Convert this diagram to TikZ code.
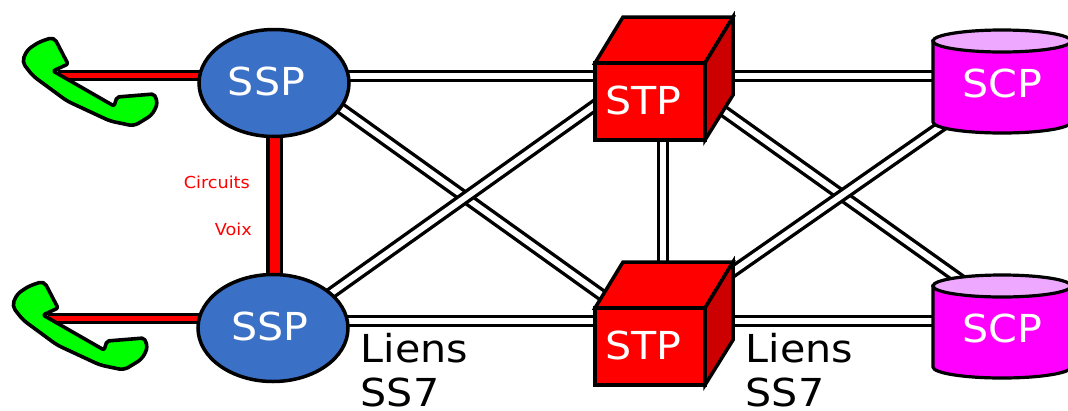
\documentclass[tikz,border=0pt]{standalone}
\usepackage{fontspec}
\setmainfont[FakeStretch=1.07]{DejaVu Sans}
\usetikzlibrary{shapes.geometric,backgrounds}
\definecolor{sspblue}{HTML}{3A70C6}
\definecolor{cubedark}{HTML}{CC0000}
\definecolor{scptop}{HTML}{EFA8FF}
\definecolor{scpmain}{HTML}{FF00FF}
\definecolor{phonegreen}{HTML}{00FF00}
\definecolor{purered}{HTML}{FF0000}
\tikzset{
  x=1pt,y=-1pt,
  ssplink/.style={line width=3.4pt,double=white,double distance=6pt},
  voicev/.style={line width=3.2pt,double=purered,double distance=10pt},
  voiceh/.style={line width=3pt,double=purered,double distance=5pt},
  sspnode/.style={ellipse,draw=black,line width=3.5pt,fill=sspblue,inner sep=0pt,minimum width=150pt,minimum height=107pt},
  cubefront/.style={rectangle,draw=black,line width=4pt,fill=purered,inner sep=0pt,minimum width=110pt,minimum height=77pt},
  cubeedge/.style={draw=black,line width=3.5pt,line join=miter},
  bigtxt/.style={anchor=base,inner sep=0pt,font=\fontsize{38.5}{38.5}\selectfont,text=white},
  blacktxt/.style={anchor=base west,inner sep=0pt,font=\fontsize{38.5}{38.5}\selectfont,text=black},
  redtxt/.style={anchor=base east,inner sep=0pt,font=\fontsize{16.5}{16.5}\selectfont,text=purered},
  scpbody/.style={draw=black,line width=3.2pt,fill=scpmain},
  scpcap/.style={draw=black,line width=3.2pt,fill=scptop},
  phone/.style={draw=black,line width=3.6pt,fill=phonegreen,line join=round},
}
\newcommand{\phoneshape}[2]{%
  \path[phone,shift={(#1,#2)},rounded corners=2pt] (54,37) -- (68,64) -- (53,71) -- (114,106) -- (117,97) -- (154,94)
    [rounded corners=5pt] -- (158,103) -- (152,115) -- (134,126) -- (110,121) -- (67,101) -- (33,76)
    -- (22,62) -- (27,50) -- (39,42) -- cycle;}
\newcommand{\cubeshape}[1]{%
  \path[cubeedge,fill=purered,shift={(0,#1)}] (595,63) -- (623,17) -- (733,17) -- (705,63) -- cycle;
  \path[cubeedge,fill=cubedark,shift={(0,#1)}] (705,63) -- (733,17) -- (733,95) -- (705,140) -- cycle;}
\newcommand{\scpshape}[1]{%
  \path[scpbody,shift={(0,#1)}] (933,41) -- (933,122) arc[x radius=69,y radius=11,start angle=180,end angle=0] -- (1071,41) -- cycle;
  \path[scpcap,shift={(0,#1)}] (1002,41) ellipse[x radius=69,y radius=11];}
\begin{document}
\begin{tikzpicture}
\useasboundingbox (0,0) rectangle (1068,410);
\clip (0,0) rectangle (1068,410);

\coordinate (phoneA) at (58,75);
\coordinate (phoneB) at (48,318.5);
\phoneshape{0}{0}
\phoneshape{-10}{244}

% Nodes
\node[sspnode] (sspA) at (274,83) {};
\node[sspnode] (sspB) at (273,328) {};
\node[bigtxt] (sspAt) at (266.5,95) {SSP};
\node[bigtxt] (sspBt) at (270,340) {SSP};

\cubeshape{0}
\cubeshape{245}
\node[cubefront] (stpA) at (650,101.5) {};
\node[cubefront] (stpB) at (650,346.5) {};
\node[bigtxt] (stpAt) at (643.5,114) {STP};
\node[bigtxt] (stpBt) at (643.5,359) {STP};

\scpshape{0}
\scpshape{245}
\coordinate (scpA) at (1002,87);
\coordinate (scpB) at (1002,332);
\node[bigtxt] (scpAt) at (1002,97) {SCP};
\node[bigtxt] (scpBt) at (1002,342) {SCP};

\node[blacktxt] (lienA1) at (360.5,362) {Liens};
\node[blacktxt] (lienA2) at (360.5,406.5) {SS7};
\node[blacktxt] (lienB1) at (745.5,362) {Liens};
\node[blacktxt] (lienB2) at (745.5,406.5) {SS7};
\node[redtxt] (circ) at (250,188) {Circuits};
\node[redtxt] (voix) at (252,235) {Voix};

% Connectors
\coordinate (a1) at (334,103.5);
\coordinate (a2) at (610,301);
\coordinate (b1) at (325,297.5);
\coordinate (b2) at (610,94.6);
\coordinate (c1) at (715,105);
\coordinate (c2) at (965,283);
\coordinate (d1) at (725,277);
\coordinate (d2) at (950,120);
\begin{pgfonlayer}{background}
  \draw[voiceh] (phoneA) -- (phoneA -| sspA);
  \draw[voiceh] (phoneB) -- (phoneB -| sspB);
  \draw[voicev] ([xshift=0.5pt]sspA.south) -- ([xshift=1.5pt]sspB.north);
  \draw[ssplink] (sspA |- 0,76) -- (stpA |- 0,76);
  \draw[ssplink] (stpA |- 0,76) -- (scpA |- 0,76);
  \draw[ssplink] (sspB |- 0,321) -- (stpB |- 0,321);
  \draw[ssplink] (stpB |- 0,321) -- (scpB |- 0,321);
  \draw[ssplink] ([xshift=13pt]stpA.south) -- ([xshift=13pt]stpB.north);
  \draw[ssplink] (a1) -- (a2);
  \draw[ssplink] (b1) -- (b2);
  \draw[ssplink] (c1) -- (c2);
  \draw[ssplink] (d1) -- (d2);
\end{pgfonlayer}
\end{tikzpicture}
\end{document}
